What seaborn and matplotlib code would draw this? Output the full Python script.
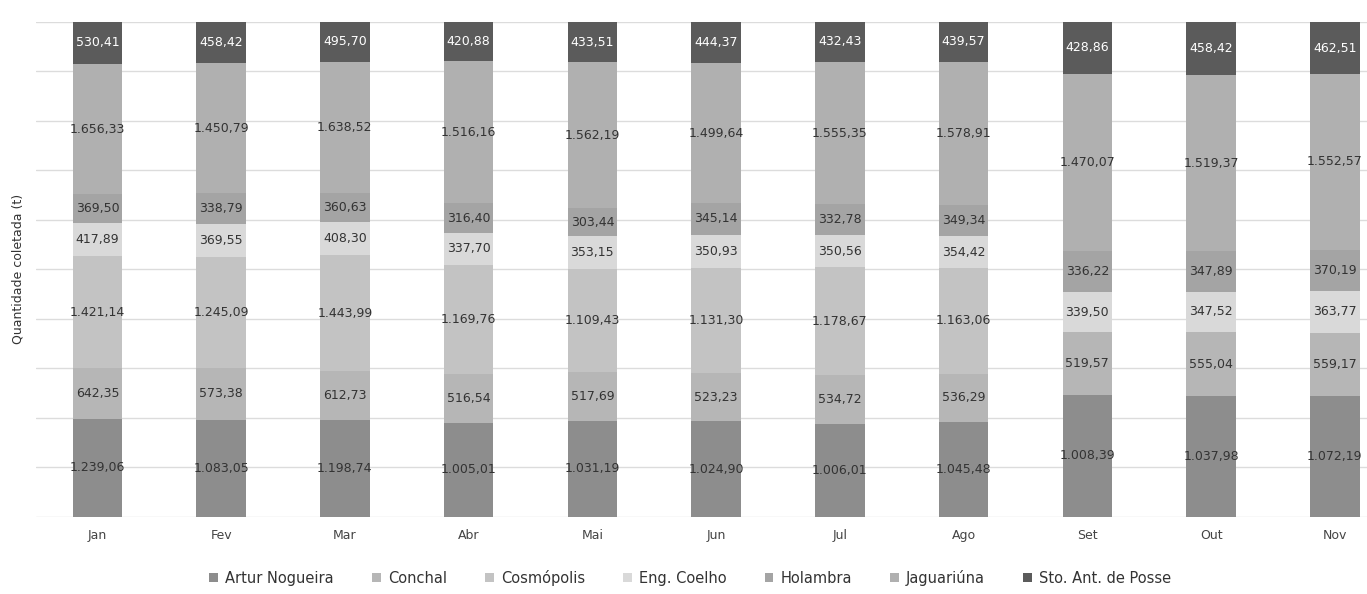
import numpy as np
import pandas as pd
import matplotlib
matplotlib.use('Agg')
import matplotlib.pyplot as plt
import seaborn as sns

meses = ['Jan', 'Fev', 'Mar', 'Abr', 'Mai', 'Jun', 'Jul', 'Ago', 'Set', 'Out', 'Nov']
municipios = ['Artur Nogueira', 'Conchal', 'Cosmópolis', 'Eng. Coelho',
              'Holambra', 'Jaguariúna', 'Sto. Ant. de Posse']

artur_nogueira = [1239.06, 1083.05, 1198.74, 1005.01, 1031.19, 1024.90, 1006.01, 1045.48, 1008.39, 1037.98, 1072.19]
conchal = [642.35, 573.38, 612.73, 516.54, 517.69, 523.23, 534.72, 536.29, 519.57, 555.04, 559.17]
cosmopolis = [1421.14, 1245.09, 1443.99, 1169.76, 1109.43, 1131.30, 1178.67, 1163.06, 0, 0, 0]
eng_coelho = [417.89, 369.55, 408.30, 337.70, 353.15, 350.93, 350.56, 354.42, 339.50, 347.52, 363.77]
holambra = [369.50, 338.79, 360.63, 316.40, 303.44, 345.14, 332.78, 349.34, 336.22, 347.89, 370.19]
jaguariuna = [1656.33, 1450.79, 1638.52, 1516.16, 1562.19, 1499.64, 1555.35, 1578.91, 1470.07, 1519.37, 1552.57]
sto_ant_posse = [530.41, 458.42, 495.70, 420.88, 433.51, 444.37, 432.43, 439.57, 428.86, 458.42, 462.51]

cores = ['#8d8d8d', '#b6b6b6', '#c3c3c3', '#d9d9d9', '#a4a4a4', '#b0b0b0', '#5b5b5b']

series = [artur_nogueira, conchal, cosmopolis, eng_coelho, holambra, jaguariuna, sto_ant_posse]
linhas = []
for mun, vals in zip(municipios, series):
    for mes, v in zip(meses, vals):
        linhas.append({'mes': mes, 'municipio': mun, 'valor': v})
df = pd.DataFrame(linhas)
df['municipio'] = pd.Categorical(df['municipio'], municipios, ordered=True)
df['mes'] = pd.Categorical(df['mes'], meses, ordered=True)
df = df.sort_values(['mes', 'municipio'])
df['pct'] = df['valor'] / df.groupby('mes', observed=True)['valor'].transform('sum')
df['acum'] = df.groupby('mes', observed=True)['pct'].cumsum()


def fmt_br(v):
    return f'{v:,.2f}'.replace(',', 'X').replace('.', ',').replace('X', '.')


sns.set_theme(style='white')
plt.rcParams['font.family'] = ['DejaVu Sans']
fig, ax = plt.subplots(figsize=(13.67, 5.94), dpi=100)
fig.subplots_adjust(left=0.026, right=1.0, bottom=0.13, top=0.963)

# barras empilhadas: desenha a soma acumulada de cima para baixo
for mun, cor in reversed(list(zip(municipios, cores))):
    sub = df[df['municipio'] == mun]
    sns.barplot(data=sub, x='mes', y='acum', order=meses, color=cor, saturation=1,
                width=0.4, errorbar=None, ax=ax, label=mun, linewidth=0, zorder=2)

for _, r in df.iterrows():
    if r['valor'] <= 0:
        continue
    i = meses.index(r['mes'])
    cor_txt = 'white' if r['municipio'] == 'Sto. Ant. de Posse' else '#333333'
    ax.text(i, r['acum'] - r['pct'] / 2, fmt_br(r['valor']), ha='center', va='center',
            fontsize=9, color=cor_txt, zorder=5)

ax.set_ylim(0, 1.0)
ax.set_xlim(-0.5, 10.26)
ax.set_yticks(np.arange(0, 1.01, 0.1))
ax.set_yticklabels([])
ax.tick_params(axis='y', length=0)
ax.tick_params(axis='x', length=0, pad=9, labelsize=9, labelcolor='#444444')
ax.yaxis.grid(True, color='#dcdcdc', linewidth=1)
ax.set_axisbelow(True)
ax.set_xlabel('')
ax.set_ylabel('Quantidade coletada (t)', fontsize=9, color='#333333')
ax.yaxis.set_label_coords(-0.008, 0.5)
sns.despine(left=True, bottom=True)

handles, labels = ax.get_legend_handles_labels()
if ax.get_legend() is not None:
    ax.get_legend().remove()
ordem = [labels.index(m) for m in municipios]
fig.legend([handles[k] for k in ordem], [labels[k] for k in ordem],
           loc='center', bbox_to_anchor=(0.505, 0.027), ncol=7, frameon=False,
           fontsize=10.5, handlelength=0.6, handleheight=0.6, columnspacing=2.6,
           handletextpad=0.5, labelcolor='#333333')

fig.savefig('out.png', dpi=100)
